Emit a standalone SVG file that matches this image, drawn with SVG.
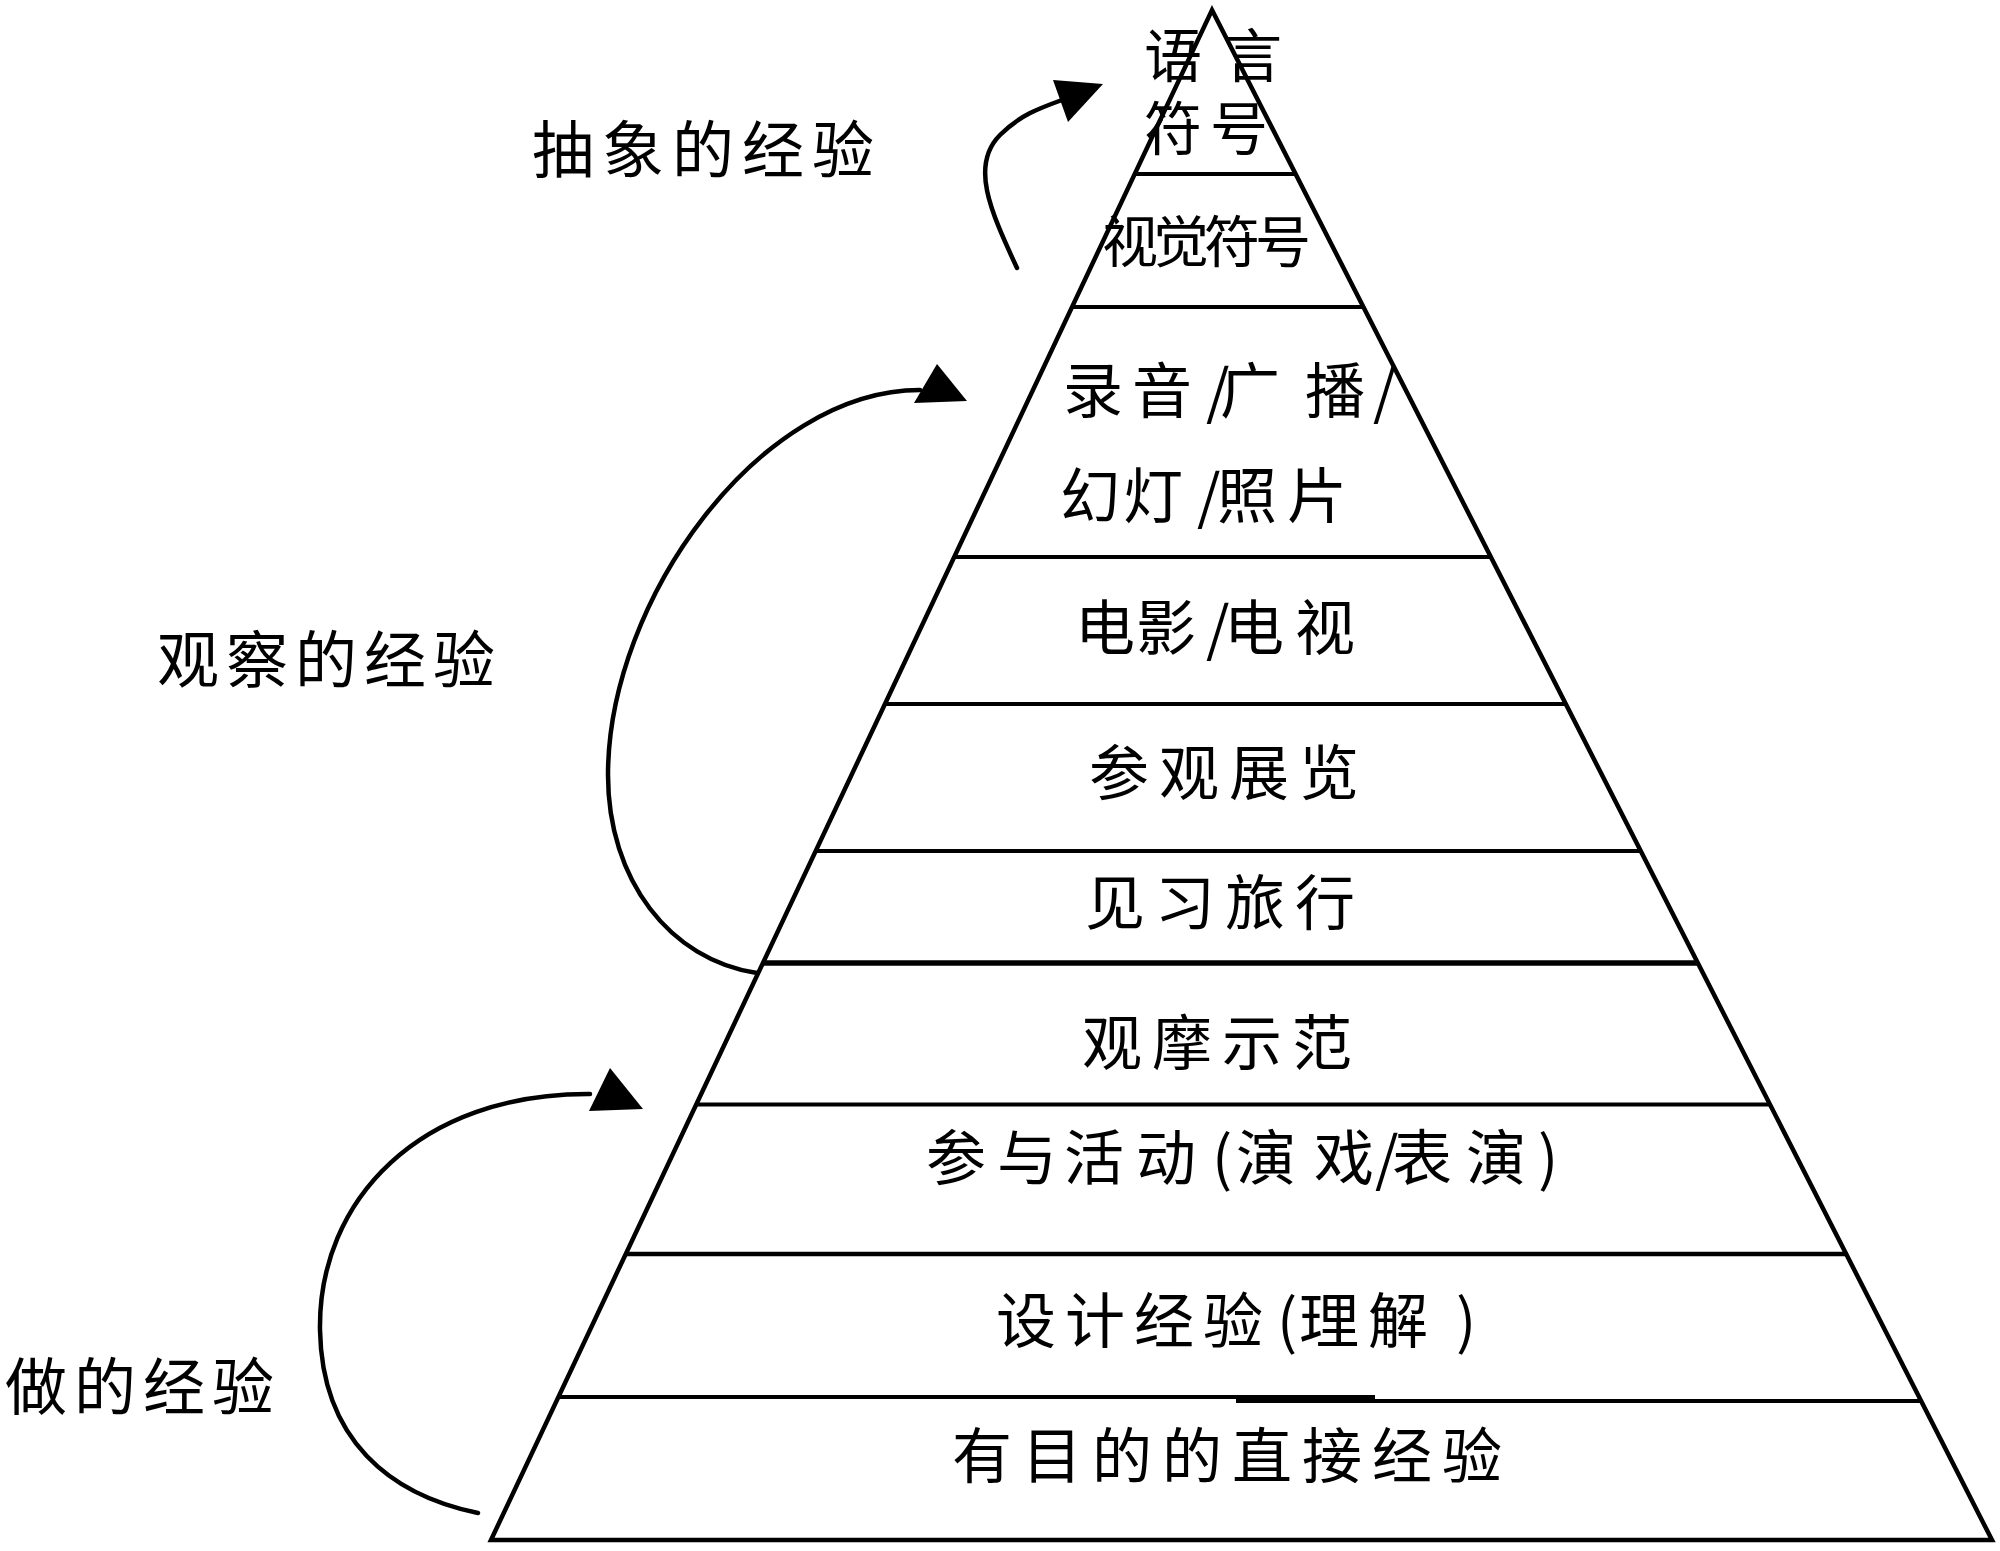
<svg xmlns="http://www.w3.org/2000/svg" width="2000" height="1551" viewBox="0 0 2000 1551">
<style>
.t{font-family:"Noto Sans CJK SC","Liberation Sans",sans-serif;font-size:60px;fill:#000}
.band{stroke:#000;stroke-width:4;fill:none}
.con{stroke:#000;stroke-width:4.5;fill:none;stroke-linecap:round}
.head{fill:#000;stroke:none}
</style>
<rect width="2000" height="1551" fill="#fff"/>
<g id="pyramid">
<polygon points="1212,10 1992,1540 491,1540" fill="none" stroke="#000" stroke-width="4.5" stroke-linejoin="miter"/>
</g>
<g id="n1">
<text class="t" style="font-size:58px" x="1144 1224" y="77">语言</text>
<text class="t" style="font-size:58px" x="1144 1210" y="150">符号</text>
<line class="band" x1="1135" y1="174" x2="1295" y2="174"/>
</g>
<g id="n2">
<text class="t" style="font-size:56px;letter-spacing:-5px" x="1102" y="262">视觉符号</text>
<line class="band" x1="1072" y1="307" x2="1363" y2="307"/>
</g>
<g id="n3">
<text class="t" x="1063 1132 1206 1220 1305 1373" y="413">录音/广播/</text>
<text class="t" x="1060 1123 1197 1217 1287" y="518">幻灯/照片</text>
<line class="band" x1="954" y1="557" x2="1491" y2="557"/>
</g>
<g id="n4">
<text class="t" x="1075 1136 1206 1224 1295" y="650">电影/电视</text>
<line class="band" x1="885" y1="704" x2="1566" y2="704"/>
</g>
<g id="n5">
<text class="t" style="letter-spacing:10px" x="1089" y="795">参观展览</text>
<line class="band" x1="816" y1="851" x2="1641" y2="851"/>
</g>
<g id="n6">
<text class="t" style="letter-spacing:10px" x="1085" y="925">见习旅行</text>
<line class="band" style="stroke-width:5.5" x1="763" y1="963" x2="1698" y2="963"/>
</g>
<g id="n7">
<text class="t" style="letter-spacing:10px" x="1082" y="1065">观摩示范</text>
<line class="band" x1="696" y1="1104.5" x2="1770" y2="1104.5"/>
</g>
<g id="n8">
<text class="t" x="926 997 1064 1136 1212 1236 1314 1375 1392 1466 1538" y="1180">参与活动(演戏/表演)</text>
<line class="band" style="stroke-width:4.5" x1="626" y1="1254" x2="1846" y2="1254"/>
</g>
<g id="n9">
<text class="t" x="996 1065 1134 1203 1277 1299 1368 1456" y="1343">设计经验(理解)</text>
<line class="band" x1="558" y1="1397" x2="1375" y2="1397"/>
<line class="band" x1="1236" y1="1401" x2="1920" y2="1401"/>
</g>
<g id="n10">
<text class="t" style="letter-spacing:10px" x="952" y="1478">有目的的直接经验</text>
</g>
<g id="label-abstract">
<text class="t" style="font-size:62px;letter-spacing:8px" x="532" y="173">抽象的经验</text>
</g>
<g id="label-observe">
<text class="t" style="font-size:62px;letter-spacing:7px" x="157" y="683">观察的经验</text>
</g>
<g id="label-do">
<text class="t" style="font-size:62px;letter-spacing:7px" x="5" y="1410">做的经验</text>
</g>
<g id="connectors">
<path class="con" d="M1017,268 C990,210 970,165 1000,135 C1020,115 1040,108 1062,100"/>
<polygon class="head" points="1053,80 1103,84 1068,122"/>
<path class="con" d="M757,973 C670,960 608,880 608,775 C608,600 760,390 920,390"/>
<polygon class="head" points="937,364 967,401 914,403"/>
<path class="con" d="M478,1513 C390,1495 322,1440 320,1330 C318,1200 420,1093 590,1094"/>
<polygon class="head" points="610,1068 643,1109 589,1111"/>
</g>
</svg>
